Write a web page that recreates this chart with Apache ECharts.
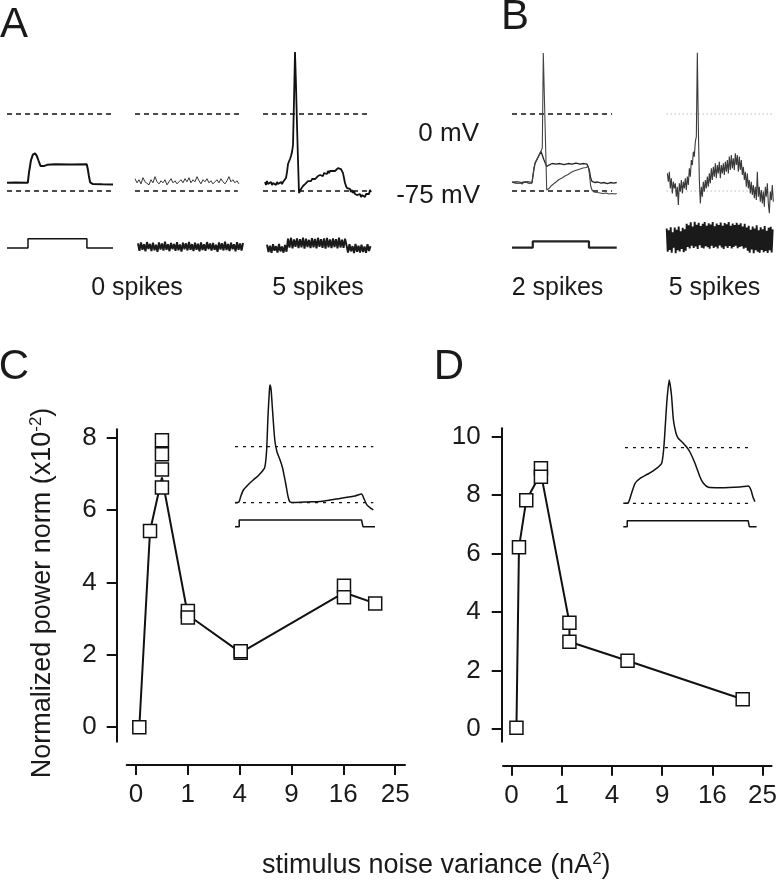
<!DOCTYPE html>
<html><head><meta charset="utf-8">
<script src="https://cdn.jsdelivr.net/npm/echarts@6/dist/echarts.min.js"></script>
<style>html,body{margin:0;padding:0;background:#fff}#c{width:780px;height:884px}</style>
</head><body><div id="c"></div><script>
const FONT = '"Liberation Sans", Arial, Helvetica, sans-serif';

// ---------- Panels C / D : power vs stimulus noise variance ----------
const varianceTicks = [0, 1, 4, 9, 16, 25];
const cPowerTicks = [0, 2, 4, 6, 8];
const dPowerTicks = [0, 2, 4, 6, 8, 10];
const cVariance = [0.004, 0.073, 0.25, 0.25, 0.25, 0.25, 1, 1, 4.08, 4.08, 16.1, 16.1, 21.3];
const cPower    = [0, 5.42, 7.93, 7.54, 7.12, 6.62, 3.21, 3.03, 2.06, 2.1, 3.91, 3.59, 3.42];
const cLineVariance = [0.004, 0.073, 0.25, 1, 4.08, 16.1, 21.3];
const cLinePower    = [0, 5.42, 6.9, 3.1, 2.06, 3.72, 3.42];
const dVariance = [0.0096, 0.022, 0.086, 0.343, 0.343, 1.33, 1.33, 5.34, 21.2];
const dPower    = [0.05, 6.22, 7.83, 8.92, 8.63, 3.64, 2.99, 2.34, 1.02];
const dLineVariance = [0.0096, 0.022, 0.086, 0.343, 1.33, 1.33, 5.34, 21.2];
const dLinePower    = [0.05, 6.22, 7.83, 8.75, 3.64, 2.99, 2.34, 1.02];

// ---------- Voltage (mV) / current (nA) traces, time in ms ----------
const levelsMV = [0, -75];
// A, column 1: step response
const a1V = [[0,-67],[40,-66.8],[98,-67],[104,-56.5],[113,-45],[122,-39.5],[132,-38.3],[140,-40.5],[148,-45],[158,-50.5],[166,-52.3],[176,-50.5],[190,-49.5],[226,-49],[300,-49.2],[376,-49],[381,-53.5],[386,-60],[392,-66.5],[406,-68.2],[450,-68.5],[500,-68.7]];
const a1I = [[0,0],[99,0],[99,0.5],[377,0.5],[377,0],[500,0]];
// A, column 2: noise, 0 spikes (sampled traces)
const a2Vt0 = 0, a2Vdt = 9.43;
const a2V = [-63,-67,-64,-68,-62,-66,-65,-69,-64,-67,-61,-66,-68,-65,-67,-64,-69,-66,-63,-67,-65,-68,-66,-64,-67,-63,-66,-62,-67,-64,-66,-61,-65,-68,-64,-66,-63,-67,-65,-68,-66,-64,-67,-63,-66,-68,-65,-61,-66,-64,-67,-65,-68];
const a2It0 = 14, a2Idt = 7.08;
const a2I = [0.25,-0.15,0.3,-0.1,0.2,-0.18,0.32,-0.05,0.22,-0.16,0.28,-0.12,0.18,-0.2,0.3,-0.08,0.24,-0.14,0.34,-0.1,0.2,-0.17,0.27,-0.06,0.22,-0.15,0.31,-0.12,0.19,-0.19,0.28,-0.07,0.25,-0.13,0.33,-0.1,0.21,-0.16,0.29,-0.09,0.23,-0.18,0.3,-0.11,0.2,-0.15,0.32,-0.06,0.24,-0.14,0.27,-0.1,0.18,-0.2,0.3,-0.08,0.25,-0.13,0.34,-0.11,0.22,-0.16,0.28,-0.07,0.2,-0.18,0.31,-0.1,0.24,-0.14,0.27];
// A, column 3: step + noise, 5 spikes
const a3Vt0 = 9.43, a3Vdt = 4.717;
const a3V = [-66.2,-69.2,-65.3,-68.2,-67.2,-70.1,-66.2,-69.2,-67.2,-68.2,-65.3,-69.2,-66.2,-68.2,-67.2,-69.2,-66.2,-68.2,-66.2,-67.2,-65.3,-62.3,-56.5,-48.7,-46.8,-43.8,-40.9,-37.0,-30.2,13.6,60.4,28.2,-10.7,-44.8,-76.9,-75.0,-73.0,-72.1,-70.1,-70.1,-68.2,-67.2,-68.2,-65.3,-66.2,-64.3,-65.3,-63.3,-64.3,-62.3,-63.3,-61.4,-62.3,-60.4,-61.4,-59.4,-60.4,-58.4,-60.4,-57.5,-58.4,-56.5,-58.4,-55.5,-57.5,-55.5,-56.5,-54.5,-55.5,-53.6,-55.5,-53.6,-54.5,-52.6,-54.5,-52.6,-53.6,-54.5,-57.5,-62.3,-67.2,-70.1,-72.1,-71.1,-74.0,-73.0,-76.0,-74.0,-77.0,-75.0,-77.9,-76.0,-78.9,-77.0,-79.9,-77.9,-80.9,-78.9,-79.9,-77.0,-80.9,-77.9,-78.9,-76.0,-77.9,-74.0,-76.0];
const a3It0 = 18.9, a3Idt = 7.075;
const a3I = [0.18,-0.22,0.12,-0.26,0.2,-0.15,0.1,-0.24,0.22,-0.18,0.08,-0.25,0.16,-0.2,0.5,0.02,0.55,-0.02,0.46,0.06,0.52,0.0,0.48,0.04,0.56,-0.03,0.5,0.05,0.44,0.0,0.53,0.03,0.49,-0.02,0.55,0.06,0.47,0.01,0.51,-0.03,0.54,0.04,0.46,0.0,0.52,0.05,0.48,-0.02,0.56,0.03,0.45,0.01,0.5,0.15,-0.25,0.2,-0.18,0.1,-0.27,0.22,-0.2,0.12,-0.24,0.18,-0.22,0.08,-0.26,0.2,-0.16,0.1];
// B, column 1: two sweeps, 2 spikes
const b1VSpike = [[0,-66.7],[9.4,-67.7],[18.9,-65.7],[28.3,-67.2],[37.7,-66.2],[47.2,-68.2],[56.6,-66.2],[66,-67.7],[75.5,-65.7],[84.9,-67.2],[94.3,-66.7],[99.1,-59.4],[103.8,-52.6],[108.5,-47.7],[117.9,-43.8],[127.4,-39.9],[136.8,-36.0],[142.9,-33.1],[147.6,59.4],[163.7,-74.0],[174.5,-72.6],[184,-70.1],[193.4,-68.2],[207.5,-66.2],[221.7,-63.8],[235.8,-62.3],[250,-60.4],[264.2,-58.9],[278.3,-57.0],[292.5,-55.5],[306.6,-54.5],[320.8,-53.6],[334.9,-52.6],[349.1,-52.1],[359.9,-51.1],[364.6,-57.5],[371.2,-70.1],[377.4,-74.0],[386.8,-76.0],[400.9,-76.5],[415.1,-76.9],[429.2,-77.4],[443.4,-76.9],[457.5,-77.9],[471.7,-77.4],[485.8,-77.9],[493.9,-77.4]];
const b1VNoSpike = [[0,-66.2],[9.4,-66.7],[18.9,-67.2],[28.3,-66.2],[37.7,-67.2],[47.2,-66.7],[56.6,-67.7],[66,-66.2],[75.5,-67.2],[84.9,-66.2],[94.3,-67.2],[99.1,-59.9],[103.8,-53.1],[108.5,-48.2],[117.9,-44.3],[127.4,-40.4],[136.8,-36.5],[142.9,-35.1],[151,-44.8],[163.7,-51.1],[174.5,-49.7],[188.7,-48.2],[207.5,-48.7],[226.4,-48.2],[245.3,-49.2],[264.2,-48.2],[283,-48.7],[301.9,-47.7],[320.8,-48.7],[339.6,-48.2],[353.8,-48.7],[359.9,-48.2],[364.6,-54.5],[371.2,-62.3],[377.4,-65.7],[391.5,-66.7],[405,-66.2],[420,-67.2],[435,-66.7],[450,-67.7],[465,-66.7],[480,-67.2],[493.9,-66.7]];
const b1I = [[0,0.02],[98,0.02],[98,0.36],[363,0.36],[363,0.02],[494,0.02]];
// B, column 2: large noise, 5 spikes
const b2Vt0 = 3, b2Vdt = 4.716;
const b2V = [-57.8,-65.9,-56.2,-72.4,-62.6,-77.3,-65.9,-72.4,-67.5,-80.5,-70.8,-88.6,-67.5,-75.6,-64.3,-77.3,-65.9,-72.4,-62.6,-74.0,-61.0,-69.1,-52.9,-61.0,-44.8,-49.7,-36.7,-41.5,-26.9,-22.1,59.8,-12.3,-64.3,-87.0,-70.8,-80.5,-65.9,-75.6,-64.3,-72.4,-61.0,-70.8,-57.8,-67.5,-52.9,-64.3,-51.3,-61.0,-48.0,-62.6,-49.7,-57.8,-46.4,-62.6,-49.7,-57.8,-48.0,-59.4,-46.4,-56.2,-44.8,-57.8,-41.5,-54.5,-39.9,-52.9,-43.2,-54.5,-38.3,-49.7,-39.9,-56.2,-41.5,-54.5,-44.8,-59.4,-51.3,-64.3,-56.2,-70.8,-57.8,-72.4,-64.3,-77.3,-65.9,-78.9,-69.1,-82.1,-70.8,-83.8,-56.2,-80.5,-70.8,-85.4,-74.0,-87.0,-75.6,-90.3,-70.8,-80.5,-67.5,-87.0,-96.7,-75.6,-83.8,-69.1,-85.4];
const b2It0 = 0, b2Idt = 4.716;
const b2I = [1.05,-0.2,0.95,-0.1,1.12,-0.25,0.85,0.02,1.1,-0.28,0.98,-0.12,1.15,-0.18,0.9,-0.05,1.08,-0.22,1.0,-0.15,1.3,0.05,1.22,-0.02,1.38,0.12,1.15,0.0,1.41,0.08,1.25,-0.05,1.35,0.15,1.18,0.02,1.3,-0.03,1.4,0.1,1.2,0.04,1.33,-0.04,1.26,0.12,1.39,0.0,1.17,0.07,1.32,-0.02,1.24,0.14,1.37,0.03,1.2,-0.05,1.34,0.09,1.28,0.0,1.4,0.11,1.19,-0.03,1.31,0.06,1.23,0.13,1.36,-0.01,1.25,0.05,1.33,0.1,1.16,-0.04,1.3,0.02,1.1,-0.15,1.2,-0.25,0.98,-0.08,1.15,-0.28,1.05,-0.12,1.22,-0.2,0.95,-0.26,1.12,-0.1,1.0,-0.22,1.18,-0.16,0.92,-0.27,1.08,-0.12,1.14,-0.24,1.0];
// Insets (average spike waveforms)
const cInsetV = [[0,-75],[14,-74],[21,-66],[30,-58],[46,-51.3],[65,-44.6],[82,-39.2],[101,-31.3],[107,-26.8],[113,-4.4],[118,42.5],[123,76],[125,82.6],[129,76],[134,49],[139,22.4],[143,6.3],[150,-7],[161,-17.8],[170,-28.5],[175,-37.8],[182,-51.3],[189,-66],[196,-73.7],[214,-74.7],[260,-74],[304,-73.4],[375,-69.3],[429,-66],[452,-63.3],[461,-70],[471,-78],[483,-82],[494,-84.7]];
const cInsetI = [[0,0],[15,0],[15,0.5],[452,0.5],[457,0],[500,0]];
const dInsetV = [[0,-75],[17,-74.6],[27.5,-63.8],[42,-48],[60,-41.3],[88,-35.5],[119,-27.8],[137,-21],[144,-3.1],[149,23.9],[156,64.3],[164,91.3],[172,71.1],[179,37.4],[188,19.8],[196,12.7],[210,7.7],[226,0.9],[238,-5.8],[256,-21],[274,-39.5],[286,-48],[304,-53.4],[345,-54],[417,-53],[446,-51.7],[456,-57],[463,-66.5],[470,-72.8]];
const dInsetI = [[0,0],[14,0],[14,0.45],[446,0.45],[450,0],[476,0]];

const spikeLabels = ['0 spikes', '5 spikes', '2 spikes', '5 spikes'];

// ---------- build ----------
const grid = [], xAxis = [], yAxis = [], series = [];
function addGrid(box, xr, yr) {
  grid.push({left: box[0], top: box[1], width: box[2], height: box[3]});
  const i = grid.length - 1;
  xAxis.push({gridIndex: i, type: 'value', min: xr[0], max: xr[1], show: false});
  yAxis.push({gridIndex: i, type: 'value', min: yr[0], max: yr[1], show: false});
  return i;
}
function addLine(gi, data, color, width, type, extra) {
  series.push(Object.assign({type: 'line', xAxisIndex: gi, yAxisIndex: gi, data: data, symbol: 'none', showSymbol: false, silent: true,
    lineStyle: {color: color, width: width, type: type || 'solid'}}, extra || {}));
}
function sampled(t0, dt, vals) { return vals.map((v, i) => [t0 + i * dt, v]); }
function levelLine(x0, x1, mv) { return [[x0, mv], [x1, mv]]; }

const PXMS = 0.212, TW = 520 * PXMS;
const V_BOX = [47.3, 169.4], V_RANGE = [-100, 65];
const I_BOX = [220.1, 41.85], I_RANGE = [-0.75, 1.5];
function column(left) {
  return {
    v: addGrid([left, V_BOX[0], TW, V_BOX[1]], [0, 520], V_RANGE),
    i: addGrid([left, I_BOX[0], TW, I_BOX[1]], [0, 520], I_RANGE)
  };
}
const DASH = [5, 4];
// A1
let g = column(7);
levelsMV.forEach(m => addLine(g.v, levelLine(0, 500, m), '#111', 1.4, DASH));
addLine(g.v, a1V, '#111', 2);
addLine(g.i, a1I, '#111', 1.5);
// A2
g = column(135);
addLine(g.v, levelLine(0, 500, levelsMV[0]), '#111', 1.4, DASH);
addLine(g.v, levelLine(0, 485, levelsMV[1]), '#111', 1.4, DASH);
addLine(g.v, sampled(a2Vt0, a2Vdt, a2V), '#333', 1);
addLine(g.i, sampled(a2It0, a2Idt, a2I), '#1a1a1a', 2);
// A3
g = column(263);
levelsMV.forEach(m => addLine(g.v, levelLine(0, 505, m), '#111', 1.4, DASH));
addLine(g.v, sampled(a3Vt0, a3Vdt, a3V), '#111', 1.8);
addLine(g.i, sampled(a3It0, a3Idt, a3I), '#1a1a1a', 2);
// B1
g = column(512);
levelsMV.forEach(m => addLine(g.v, levelLine(0, 472, m), '#111', 1.4, DASH));
addLine(g.v, b1VNoSpike, '#222', 1.3);
addLine(g.v, b1VSpike, '#444', 1.1);
addLine(g.i, b1I, '#222', 2.2);
// B2
g = column(666.7);
levelsMV.forEach(m => addLine(g.v, levelLine(0, 501, m), '#999', 1, [1, 3]));
addLine(g.v, sampled(b2Vt0, b2Vdt, b2V), '#3a3a3a', 1.1);
addLine(g.i, sampled(b2It0, b2Idt, b2I), '#1a1a1a', 1.9);

// Insets
const INSET_DASH = [3, 5];
let gv = addGrid([235, 379.5, 140, 134.4], [0, 500], [-90, 90]);
let gi = addGrid([235, 513.3, 140, 20.1], [0, 500], [-0.5, 1]);
levelsMV.forEach(m => addLine(gv, levelLine(0, 494, m), '#111', 1.2, INSET_DASH));
addLine(gv, cInsetV, '#111', 1.5, 'solid', {smooth: 0.2});
addLine(gi, cInsetI, '#111', 1.5);
gv = addGrid([623.3, 373.6, 140, 140.8], [0, 500], [-90, 100]);
gi = addGrid([623.3, 513.3, 140, 20.1], [0, 500], [-0.5, 1]);
levelsMV.forEach(m => addLine(gv, levelLine(6, 452, m), '#111', 1.2, INSET_DASH));
addLine(gv, dInsetV, '#111', 1.5, 'solid', {smooth: 0.2});
addLine(gi, dInsetI, '#111', 1.5);

// Panels C and D with real axes (square-root variance scale)
const sqrtTicks = varianceTicks.map(Math.sqrt);
function powerPanel(box, xr, yr, yTicks, yOffset, xOffset, yMargin, varArr, powArr, lineVar, linePow) {
  grid.push({left: box[0], top: box[1], width: box[2], height: box[3]});
  const i = grid.length - 1;
  const lineStyle = {color: '#111', width: 2};
  const label = {fontSize: 26, color: '#1a1a1a', fontFamily: FONT};
  xAxis.push({gridIndex: i, type: 'value', min: xr[0], max: xr[1], offset: xOffset, position: 'bottom',
    axisLine: {show: true, onZero: false, lineStyle: lineStyle},
    axisTick: {show: true, length: 10, lineStyle: lineStyle, customValues: sqrtTicks},
    axisLabel: Object.assign({show: true, margin: 17, customValues: sqrtTicks,
      formatter: v => String(Math.round(v * v))}, label),
    splitLine: {show: false}});
  yAxis.push({gridIndex: i, type: 'value', min: yr[0], max: yr[1], offset: yOffset, position: 'left',
    axisLine: {show: true, onZero: false, lineStyle: lineStyle},
    axisTick: {show: true, length: 10, lineStyle: lineStyle, customValues: yTicks},
    axisLabel: Object.assign({show: true, margin: yMargin, customValues: yTicks}, label),
    splitLine: {show: false}});
  series.push({type: 'line', xAxisIndex: i, yAxisIndex: i, symbol: 'none', silent: true, z: 3,
    lineStyle: {color: '#111', width: 2},
    data: lineVar.map((v, k) => [Math.sqrt(v), linePow[k]])});
  series.push({type: 'scatter', xAxisIndex: i, yAxisIndex: i, symbol: 'rect', symbolSize: 13, silent: true, z: 4,
    itemStyle: {color: '#fff', borderColor: '#111', borderWidth: 1.5, opacity: 1},
    data: varArr.map((v, k) => [Math.sqrt(v), powArr[k]])});
}
powerPanel([126.7, 429.3, 278.3, 312.4], [-0.18, 5.19], [-0.4, 8.23], cPowerTicks, 10, 23.3, 20,
  cVariance, cPower, cLineVariance, cLinePower);
powerPanel([503, 428.3, 273.7, 313.4], [-0.17, 5.18], [-0.43, 10.29], dPowerTicks, 1.3, 24, 21,
  dVariance, dPower, dLineVariance, dLinePower);

// ---------- texts ----------
function txt(x, y, text, size, align, extra) {
  return Object.assign({type: 'text', x: x, y: y, silent: true,
    style: {text: text, fontSize: size, fontFamily: FONT, fill: '#1a1a1a',
      align: align || 'center', verticalAlign: 'middle', textAlign: align || 'center', textVerticalAlign: 'middle'}}, extra || {});
}
const graphic = [
  txt(14, 25, 'A', 42), txt(515, 17, 'B', 42), txt(14, 367, 'C', 42), txt(449, 367, 'D', 42),
  txt(479, 134, '0 mV', 26, 'right'), txt(480, 196, '-75 mV', 26, 'right'),
  txt(137, 288, spikeLabels[0], 25), txt(318, 288, spikeLabels[1], 25),
  txt(557.5, 288, spikeLabels[2], 25), txt(714.5, 288, spikeLabels[3], 25),
  {type: 'text', x: 43, y: 593, rotation: Math.PI / 2, silent: true,
    style: {text: '{a|Normalized power norm (x10}{s|-2}{a|)}', fontFamily: FONT, fill: '#1a1a1a',
      align: 'center', verticalAlign: 'middle', textAlign: 'center', textVerticalAlign: 'middle',
      rich: {a: {fontSize: 27, lineHeight: 30, fontFamily: FONT, fill: '#1a1a1a', color: '#1a1a1a'},
             s: {fontSize: 17, lineHeight: 17, verticalAlign: 'top', fontFamily: FONT, fill: '#1a1a1a', color: '#1a1a1a'}}}},
  {type: 'text', x: 262, y: 866, silent: true,
    style: {text: '{a|stimulus noise variance (nA}{s|2}{a|)}', fontFamily: FONT, fill: '#1a1a1a',
      align: 'left', verticalAlign: 'middle', textAlign: 'left', textVerticalAlign: 'middle',
      rich: {a: {fontSize: 27, lineHeight: 30, fontFamily: FONT, fill: '#1a1a1a', color: '#1a1a1a'},
             s: {fontSize: 17, lineHeight: 17, verticalAlign: 'top', fontFamily: FONT, fill: '#1a1a1a', color: '#1a1a1a'}}}}
];

const chart = echarts.init(document.getElementById('c'), null, {renderer: 'canvas'});
chart.setOption({animation: false, backgroundColor: '#fff', grid: grid, xAxis: xAxis, yAxis: yAxis, series: series, graphic: graphic});
</script></body></html>
